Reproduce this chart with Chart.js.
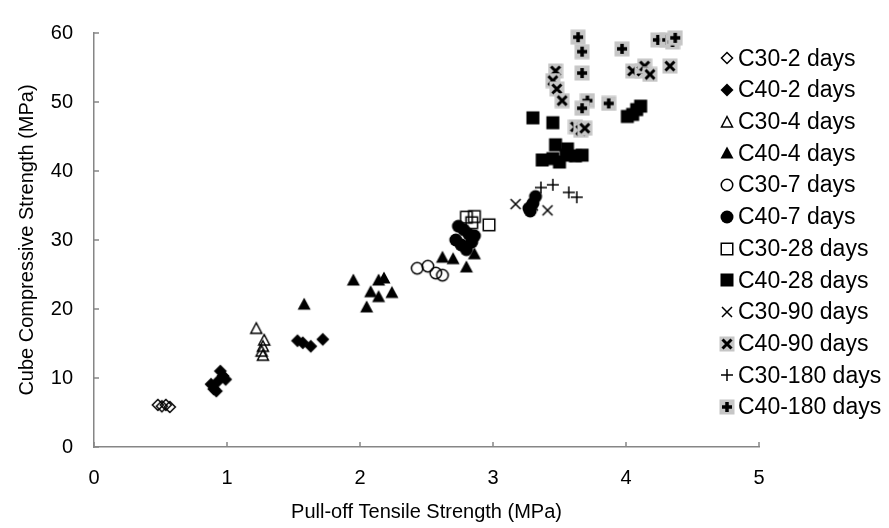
<!DOCTYPE html>
<html>
<head>
<meta charset="utf-8">
<script src="https://cdn.jsdelivr.net/npm/chart.js@4/dist/chart.umd.min.js"></script>
<style>body{margin:0;background:#fff}</style>
</head>
<body>
<canvas id="myChart" width="889" height="528"></canvas>
<script>
//Daten------------------------------------------------------------------------
const seriesNames = ["C30-2 days", "C40-2 days", "C30-4 days", "C40-4 days", "C30-7 days", "C40-7 days",
                     "C30-28 days", "C40-28 days", "C30-90 days", "C40-90 days", "C30-180 days", "C40-180 days"];

const c30_2x = [0.48, 0.51, 0.54, 0.57];
const c30_2y = [6.1, 5.9, 6.1, 5.8];
const c40_2x = [0.95, 0.97, 0.99, 0.93, 0.88, 0.90, 0.92, 1.53, 1.57, 1.63, 1.72];
const c40_2y = [11.0, 10.3, 9.8, 9.5, 9.1, 8.4, 8.1, 15.4, 15.1, 14.6, 15.6];
const c30_4x = [1.22, 1.28, 1.27, 1.26, 1.27];
const c30_4y = [17.2, 15.5, 14.6, 13.9, 13.3];
const c40_4x = [1.58, 1.95, 2.14, 2.18, 2.08, 2.14, 2.24, 2.05, 2.62, 2.70, 2.80, 2.86];
const c40_4y = [20.7, 24.2, 24.2, 24.5, 22.5, 21.8, 22.4, 20.3, 27.5, 27.3, 26.1, 28.0];
const c30_7x = [2.43, 2.51, 2.57, 2.62];
const c30_7y = [25.9, 26.2, 25.2, 24.9];
const c40_7x = [2.74, 2.78, 2.82, 2.72, 2.76, 2.84, 2.80, 2.86, 3.27, 3.30, 3.32, 3.28];
const c40_7y = [32.0, 31.5, 30.8, 30.0, 29.3, 29.7, 28.6, 30.6, 34.6, 35.3, 36.3, 34.2];
const c30_28x = [2.80, 2.86, 2.97, 2.84];
const c30_28y = [33.3, 33.4, 32.2, 32.5];
const c40_28x = [3.30, 3.45, 3.37, 3.45, 3.50, 3.55, 3.62, 3.67, 3.47, 3.56, 4.01, 4.05, 4.08, 4.11];
const c40_28y = [47.7, 47.0, 41.6, 41.8, 41.3, 42.3, 42.2, 42.3, 43.8, 43.2, 47.9, 48.2, 48.9, 49.4];
const c30_90x = [3.17, 3.30, 3.41];
const c30_90y = [35.2, 35.0, 34.3];
const c40_90x = [3.47, 3.45, 3.48, 3.52, 3.62, 3.66, 3.69, 4.05, 4.12, 4.14, 4.18, 4.33];
const c40_90y = [54.5, 53.1, 51.9, 50.2, 46.4, 45.9, 46.2, 54.5, 54.5, 55.2, 54.0, 55.2];
const c30_180x = [3.36, 3.45, 3.57, 3.63];
const c30_180y = [37.6, 38.0, 36.9, 36.2];
const c40_180x = [3.64, 3.67, 3.67, 3.71, 3.67, 3.87, 3.97, 4.24, 4.31, 4.35, 4.37];
const c40_180y = [59.4, 57.3, 54.2, 50.2, 49.1, 49.8, 57.7, 59.0, 59.0, 58.7, 59.3];

const xTicks = [0, 1, 2, 3, 4, 5];
const yTicks = [0, 10, 20, 30, 40, 50, 60];
//-----------------------------------------------------------------------------

const seriesX = [c30_2x, c40_2x, c30_4x, c40_4x, c30_7x, c40_7x, c30_28x, c40_28x, c30_90x, c40_90x, c30_180x, c40_180x];
const seriesY = [c30_2y, c40_2y, c30_4y, c40_4y, c30_7y, c40_7y, c30_28y, c40_28y, c30_90y, c40_90y, c30_180y, c40_180y];
const markerKinds = ["diamondOpen", "diamond", "triOpen", "tri", "circOpen", "circ",
                     "sqOpen", "sq", "cross", "crossBold", "plus", "plusBold"];

// Marker als kleine Canvas-Bilder (Excel-Stil)
function marker(kind) {
    const c = document.createElement('canvas');
    c.width = 16; c.height = 16;
    const g = c.getContext('2d');
    g.strokeStyle = '#000';
    g.fillStyle = '#000';
    g.lineWidth = 1.5;
    const m = 8;
    if (kind.startsWith('diamond')) {
        g.beginPath();
        g.moveTo(m, 1.5); g.lineTo(14.5, m); g.lineTo(m, 14.5); g.lineTo(1.5, m); g.closePath();
        if (kind === 'diamond') g.fill(); else { g.beginPath(); g.moveTo(m, 2.5); g.lineTo(13.5, m); g.lineTo(m, 13.5); g.lineTo(2.5, m); g.closePath(); g.stroke(); }
    } else if (kind.startsWith('tri')) {
        g.beginPath();
        if (kind === 'tri') { g.moveTo(m, 1.5); g.lineTo(14.5, 13.5); g.lineTo(1.5, 13.5); g.closePath(); g.fill(); }
        else { g.moveTo(m, 2.5); g.lineTo(13.5, 13); g.lineTo(2.5, 13); g.closePath(); g.stroke(); }
    } else if (kind.startsWith('circ')) {
        g.beginPath();
        if (kind === 'circ') { g.arc(m, m, 6.5, 0, Math.PI * 2); g.fill(); }
        else { g.arc(m, m, 5.75, 0, Math.PI * 2); g.stroke(); }
    } else if (kind.startsWith('sq')) {
        if (kind === 'sq') g.fillRect(1.5, 1.5, 13, 13);
        else g.strokeRect(2.25, 2.25, 11.5, 11.5);
    } else if (kind === 'cross' || kind === 'plus') {
        g.beginPath();
        if (kind === 'cross') { g.moveTo(3, 3); g.lineTo(13, 13); g.moveTo(13, 3); g.lineTo(3, 13); }
        else { g.moveTo(m, 2); g.lineTo(m, 14); g.moveTo(2, m); g.lineTo(14, m); }
        g.stroke();
    } else {
        g.fillStyle = '#c6c6c6';
        g.fillRect(0.5, 0.5, 15, 15);
        g.lineWidth = 3;
        g.beginPath();
        if (kind === 'crossBold') { g.moveTo(3.5, 3.5); g.lineTo(12.5, 12.5); g.moveTo(12.5, 3.5); g.lineTo(3.5, 12.5); }
        else { g.moveTo(m, 3); g.lineTo(m, 13); g.moveTo(3, m); g.lineTo(13, m); g.lineWidth = 3.5; }
        g.stroke();
    }
    return c;
}

const markers = markerKinds.map(marker);

const datasets = seriesNames.map((name, i) => ({
    label: name,
    data: seriesX[i].map((x, k) => ({ x: x, y: seriesY[i][k] })),
    pointStyle: markers[i],
    pointRadius: 7,
    order: seriesNames.length - i,   // spätere Serien oben, wie in Excel
    clip: false
}));

const FONT = '"Liberation Sans", Arial, sans-serif';
const axisGrey = '#868686';

// Ticks nach innen zeichnen
const innerTicks = {
    id: 'innerTicks',
    afterDatasetsDraw(chart) {
        const { ctx, chartArea, scales } = chart;
        ctx.save();
        ctx.strokeStyle = axisGrey;
        ctx.lineWidth = 1.5;
        ctx.beginPath();
        xTicks.forEach(v => {
            const px = scales.x.getPixelForValue(v);
            ctx.moveTo(px, chartArea.bottom); ctx.lineTo(px, chartArea.bottom - 5);
        });
        yTicks.forEach(v => {
            const py = scales.y.getPixelForValue(v);
            ctx.moveTo(chartArea.left, py); ctx.lineTo(chartArea.left + 5, py);
        });
        ctx.stroke();
        ctx.restore();
    }
};

// Legende rechts (überlappt den Plotbereich wie im Original)
const sideLegend = {
    id: 'sideLegend',
    afterDraw(chart) {
        const ctx = chart.ctx;
        ctx.save();
        ctx.font = '23px ' + FONT;
        ctx.fillStyle = '#000';
        ctx.textBaseline = 'middle';
        seriesNames.forEach((name, i) => {
            const y = 58.3 + i * 31.7;
            ctx.drawImage(markers[i], 727 - 8, Math.round(y) - 8);
            ctx.fillText(name, 738, y + 1);
        });
        ctx.restore();
    }
};

const ctx = document.getElementById('myChart').getContext('2d');
const myChart = new Chart(ctx, {
    type: 'scatter',
    data: { datasets: datasets },
    options: {
        responsive: false,
        animation: false,
        devicePixelRatio: 1,
        layout: { padding: { top: 20, right: 130, bottom: 0, left: 0 } },
        scales: {
            x: {
                type: 'linear',
                min: 0, max: 5,
                afterBuildTicks: s => { s.ticks = xTicks.map(v => ({ value: v })); },
                afterFit: s => { s.height = 81; },
                ticks: { font: { size: 20, family: FONT }, color: '#000', padding: 19 },
                grid: { display: false, drawTicks: false },
                border: { display: true, color: axisGrey, width: 1.5 },
                title: {
                    display: true,
                    text: 'Pull-off Tensile Strength (MPa)',
                    font: { size: 20, family: FONT },
                    color: '#000',
                    padding: { top: 0, bottom: 4 }
                }
            },
            y: {
                type: 'linear',
                min: 0, max: 60,
                afterBuildTicks: s => { s.ticks = yTicks.map(v => ({ value: v })); },
                afterFit: s => { s.width = 94; },
                ticks: { font: { size: 20, family: FONT }, color: '#000', padding: 21 },
                grid: { display: false, drawTicks: false },
                border: { display: true, color: axisGrey, width: 1.5 },
                title: {
                    display: true,
                    text: 'Cube Compressive Strength (MPa)',
                    font: { size: 20, family: FONT },
                    color: '#000',
                    padding: { top: 15, bottom: 0 }
                }
            }
        },
        plugins: {
            legend: { display: false },
            tooltip: { enabled: false }
        }
    },
    plugins: [innerTicks, sideLegend]
});
</script>
</body>
</html>
